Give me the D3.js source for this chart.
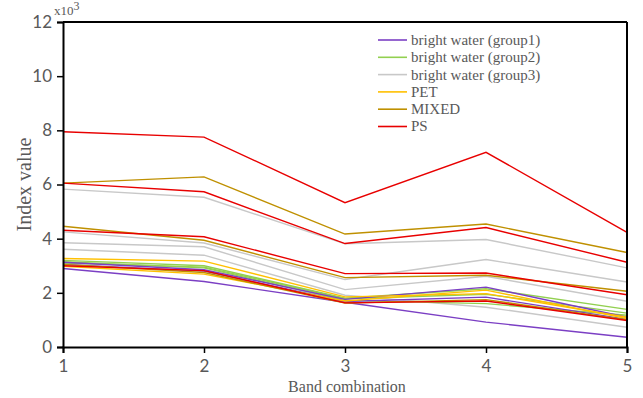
<!DOCTYPE html>
<html>
<head>
<meta charset="utf-8">
<script src="https://cdn.jsdelivr.net/npm/d3@7"></script>
<style>
  body { margin: 0; background: #fff; }
  svg { display: block; }
</style>
</head>
<body>
<div id="chart"></div>
<script>
// band combinations on the x axis
const bands = [1, 2, 3, 4, 5];
const yTicks = [0, 2, 4, 6, 8, 10, 12];

// index values (x10^3), one array per line
const group1 = [
  [2.90, 2.42, 1.65, 0.92, 0.36],
  [3.13, 2.85, 1.76, 2.21, 1.10],
  [3.05, 2.80, 1.68, 1.84, 1.02]
];
const group2 = [
  [3.20, 3.00, 1.80, 2.15, 1.39],
  [3.15, 2.92, 1.72, 1.60, 1.17],
  [3.10, 2.95, 1.78, 1.95, 1.25]
];
const group3 = [
  [5.83, 5.53, 3.81, 3.97, 2.92],
  [4.25, 3.84, 2.49, 3.23, 2.40],
  [3.85, 3.70, 2.12, 2.61, 1.69],
  [3.61, 3.39, 1.91, 1.47, 0.73]
];
const pet = [
  [3.27, 3.17, 1.85, 1.97, 1.10],
  [2.98, 2.69, 1.70, 2.10, 1.05]
];
const mixed = [
  [6.05, 6.28, 4.17, 4.54, 3.49],
  [4.46, 3.94, 2.56, 2.65, 2.06],
  [3.05, 2.75, 1.62, 1.75, 1.00]
];
const ps = [
  [7.95, 7.75, 5.33, 7.19, 4.23],
  [6.05, 5.73, 3.82, 4.41, 3.13],
  [4.31, 4.07, 2.71, 2.73, 1.93],
  [3.00, 2.82, 1.63, 1.70, 0.98]
];

const seriesNames = ["bright water (group1)", "bright water (group2)", "bright water (group3)", "PET", "MIXED", "PS"];
const seriesData = [group1, group2, group3, pet, mixed, ps];
const colors = ["#7b3fc4", "#92d050", "#c8c8c8", "#ffc000", "#bf9000", "#e80000"];

const W = 643, H = 398;
const margin = { top: 22, right: 16, bottom: 51, left: 63 };
const width = W - margin.left - margin.right,
  height = H - margin.top - margin.bottom;

const svg = d3.select("#chart").append("svg")
  .attr("width", W)
  .attr("height", H);

const g = svg.append("g")
  .attr("transform", "translate(" + margin.left + "," + margin.top + ")");

const x = d3.scaleLinear().domain([1, 5]).range([0, width]);
const y = d3.scaleLinear().domain([0, 12]).range([height, 0]);

const line = d3.line()
  .x((d, i) => x(bands[i]))
  .y(d => y(d));

// draw in back-to-front order so red sits on top like the original
const order = [2, 1, 0, 3, 4, 5];
order.forEach(k => {
  g.selectAll(".s" + k)
    .data(seriesData[k])
    .enter().append("path")
    .attr("class", "s" + k)
    .attr("d", line)
    .attr("fill", "none")
    .attr("stroke", colors[k])
    .attr("stroke-width", 1.4);
});

// frame (top and right)
g.append("line").attr("x1", 0).attr("x2", width).attr("y1", 0).attr("y2", 0)
  .attr("stroke", "#000").attr("stroke-width", 2);
g.append("line").attr("x1", width).attr("x2", width).attr("y1", 0).attr("y2", height)
  .attr("stroke", "#000").attr("stroke-width", 2);

// axes
const xAxis = g.append("g")
  .attr("transform", "translate(0," + height + ")")
  .call(d3.axisBottom(x).tickValues(bands).tickFormat(d3.format("d")).tickSizeOuter(0).tickSize(6).tickPadding(7));
const yAxis = g.append("g")
  .call(d3.axisLeft(y).tickValues(yTicks).tickSizeOuter(0).tickSize(6).tickPadding(5));

[xAxis, yAxis].forEach(a => {
  a.select(".domain").attr("stroke", "#000").attr("stroke-width", 2);
  a.selectAll(".tick line").attr("stroke", "#000").attr("stroke-width", 1.5);
  a.selectAll(".tick text")
    .attr("fill", "#595959")
    .style("font-family", "Lato, 'Open Sans', sans-serif")
    .style("font-size", "17px");
});

// x10^3 label
const mult = svg.append("text")
  .attr("x", 54)
  .attr("y", 15)
  .attr("fill", "#595959")
  .style("font-family", "'Liberation Serif', serif")
  .style("font-size", "13px");
mult.append("tspan").text("x10");
mult.append("tspan").attr("dy", -5).style("font-size", "12px").text("3");

// axis titles
svg.append("text")
  .attr("transform", "translate(31," + (margin.top + height / 2) + ") rotate(-90)")
  .attr("text-anchor", "middle")
  .attr("fill", "#595959")
  .style("font-family", "'Liberation Serif', serif")
  .style("font-size", "20px")
  .text("Index value");

svg.append("text")
  .attr("x", margin.left + width / 2 + 2)
  .attr("y", 392)
  .attr("text-anchor", "middle")
  .attr("fill", "#595959")
  .style("font-family", "'Liberation Serif', serif")
  .style("font-size", "16px")
  .text("Band combination");

// legend
const legend = svg.append("g").attr("transform", "translate(378,40)");
const rows = legend.selectAll(".lg")
  .data(seriesNames)
  .enter().append("g")
  .attr("class", "lg")
  .attr("transform", (d, i) => "translate(0," + (i * 17.3) + ")");
rows.append("line")
  .attr("x1", 0).attr("x2", 29)
  .attr("stroke", (d, i) => colors[i])
  .attr("stroke-width", 1.6);
rows.append("text")
  .attr("x", 33)
  .attr("dy", "0.33em")
  .attr("fill", "#595959")
  .style("font-family", "'Liberation Serif', serif")
  .style("font-size", "15px")
  .text(d => d);
</script>
</body>
</html>
